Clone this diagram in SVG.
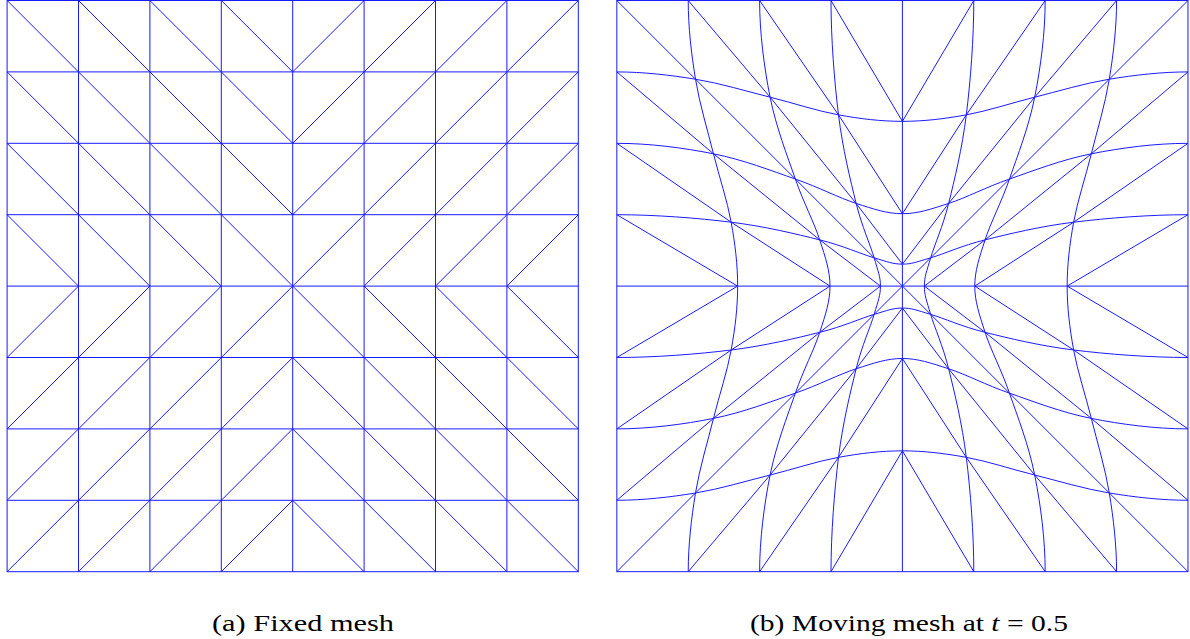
<svg xmlns="http://www.w3.org/2000/svg" width="1190" height="639" viewBox="0 0 1190 639">
<style>
 .m{fill:none;stroke:#1a1aff;stroke-width:1}
 .cap{font-family:"Liberation Serif","DejaVu Serif",serif;font-size:23px;fill:#000000}
</style>
<defs>
 <g id="q">
  <path class="m" d="M-286,-214.5 C-259.73,-214.5 -232.78,-211.42 -207.2,-207.2 C-181.62,-202.98 -156.37,-195.15 -132.5,-189.2 C-108.63,-183.25 -86.08,-175.53 -64,-171.5 C-41.92,-167.47 -21.33,-165 0,-165"/>
  <path class="m" d="M-286,-143 C-253.73,-143 -219,-138.47 -189.2,-132.5 C-159.4,-126.53 -131.02,-115.48 -107.2,-107.2 C-83.38,-98.92 -64.17,-88.58 -46.3,-82.8 C-28.43,-77.02 -15.43,-72.5 0,-72.5"/>
  <path class="m" d="M-286,-71.5 C-247.83,-71.5 -205.37,-68.2 -171.5,-64 C-137.63,-59.8 -106.67,-52.25 -82.8,-46.3 C-58.93,-40.35 -42.1,-32.35 -28.3,-28.3 C-14.5,-24.25 -9.43,-22 0,-22"/>
 </g>
 <path id="dM" class="m" d="M-286,-286L-207.2,-207.2L-107.2,-107.2L-28.3,-28.3L0,0 M-286,-214.5L-189.2,-132.5L-82.8,-46.3L-22,0 M-286,-143L-171.5,-64L-72.5,0 M-286,-71.5L-165,0 M-214.5,-286L-132.5,-189.2L-46.3,-82.8L0,-22 M-143,-286L-64,-171.5L0,-72.5 M-71.5,-286L0,-165"/>
</defs>

<g id="fixed-mesh">
 <rect class="m" x="7.1" y="0.5" width="571.2" height="571.2"/>
 <path class="m" d="M78.5,0.5V571.7 M149.9,0.5V571.7 M221.3,0.5V571.7 M292.7,0.5V571.7 M364.1,0.5V571.7 M435.5,0.5V571.7 M506.9,0.5V571.7"/>
 <path class="m" d="M7.1,71.9H578.3 M7.1,143.3H578.3 M7.1,214.7H578.3 M7.1,286.1H578.3 M7.1,357.5H578.3 M7.1,428.9H578.3 M7.1,500.3H578.3"/>
 <path class="m" d="M7.1,0.5L578.3,571.7 M578.3,0.5L7.1,571.7"/>
 <path class="m" d="M7.1,71.9L221.3,286.1 M7.1,143.3L149.9,286.1 M7.1,214.7L78.5,286.1 M78.5,0.5L292.7,214.7 M149.9,0.5L292.7,143.3 M221.3,0.5L292.7,71.9"/>
 <path class="m" d="M578.3,71.9L364.1,286.1 M578.3,143.3L435.5,286.1 M578.3,214.7L506.9,286.1 M506.9,0.5L292.7,214.7 M435.5,0.5L292.7,143.3 M364.1,0.5L292.7,71.9"/>
 <path class="m" d="M7.1,500.3L221.3,286.1 M7.1,428.9L149.9,286.1 M7.1,357.5L78.5,286.1 M78.5,571.7L292.7,357.5 M149.9,571.7L292.7,428.9 M221.3,571.7L292.7,500.3"/>
 <path class="m" d="M578.3,500.3L364.1,286.1 M578.3,428.9L435.5,286.1 M578.3,357.5L506.9,286.1 M506.9,571.7L292.7,357.5 M435.5,571.7L292.7,428.9 M364.1,571.7L292.7,500.3"/>
</g>

<g id="moving-mesh" transform="translate(902.4,286.1) scale(0.9985)">
 <rect class="m" x="-286" y="-286" width="572" height="572"/>
 <path class="m" d="M0,-286V286 M-286,0H286"/>
 <use href="#q"/>
 <use href="#q" transform="scale(-1,1)"/>
 <use href="#q" transform="scale(1,-1)"/>
 <use href="#q" transform="scale(-1,-1)"/>
 <use href="#q" transform="matrix(0,1,1,0,0,0)"/>
 <use href="#q" transform="matrix(0,1,-1,0,0,0)"/>
 <use href="#q" transform="matrix(0,-1,1,0,0,0)"/>
 <use href="#q" transform="matrix(0,-1,-1,0,0,0)"/>
 <use href="#dM"/>
 <use href="#dM" transform="scale(-1,1)"/>
 <use href="#dM" transform="scale(1,-1)"/>
 <use href="#dM" transform="scale(-1,-1)"/>
</g>

<g id="captions">
 <text class="cap" x="212" y="630.5" textLength="182" lengthAdjust="spacingAndGlyphs">(a) Fixed mesh</text>
 <text class="cap" x="750" y="630.5" textLength="318" lengthAdjust="spacingAndGlyphs">(b) Moving mesh at <tspan font-style="italic">t</tspan> = 0.5</text>
</g>
</svg>
